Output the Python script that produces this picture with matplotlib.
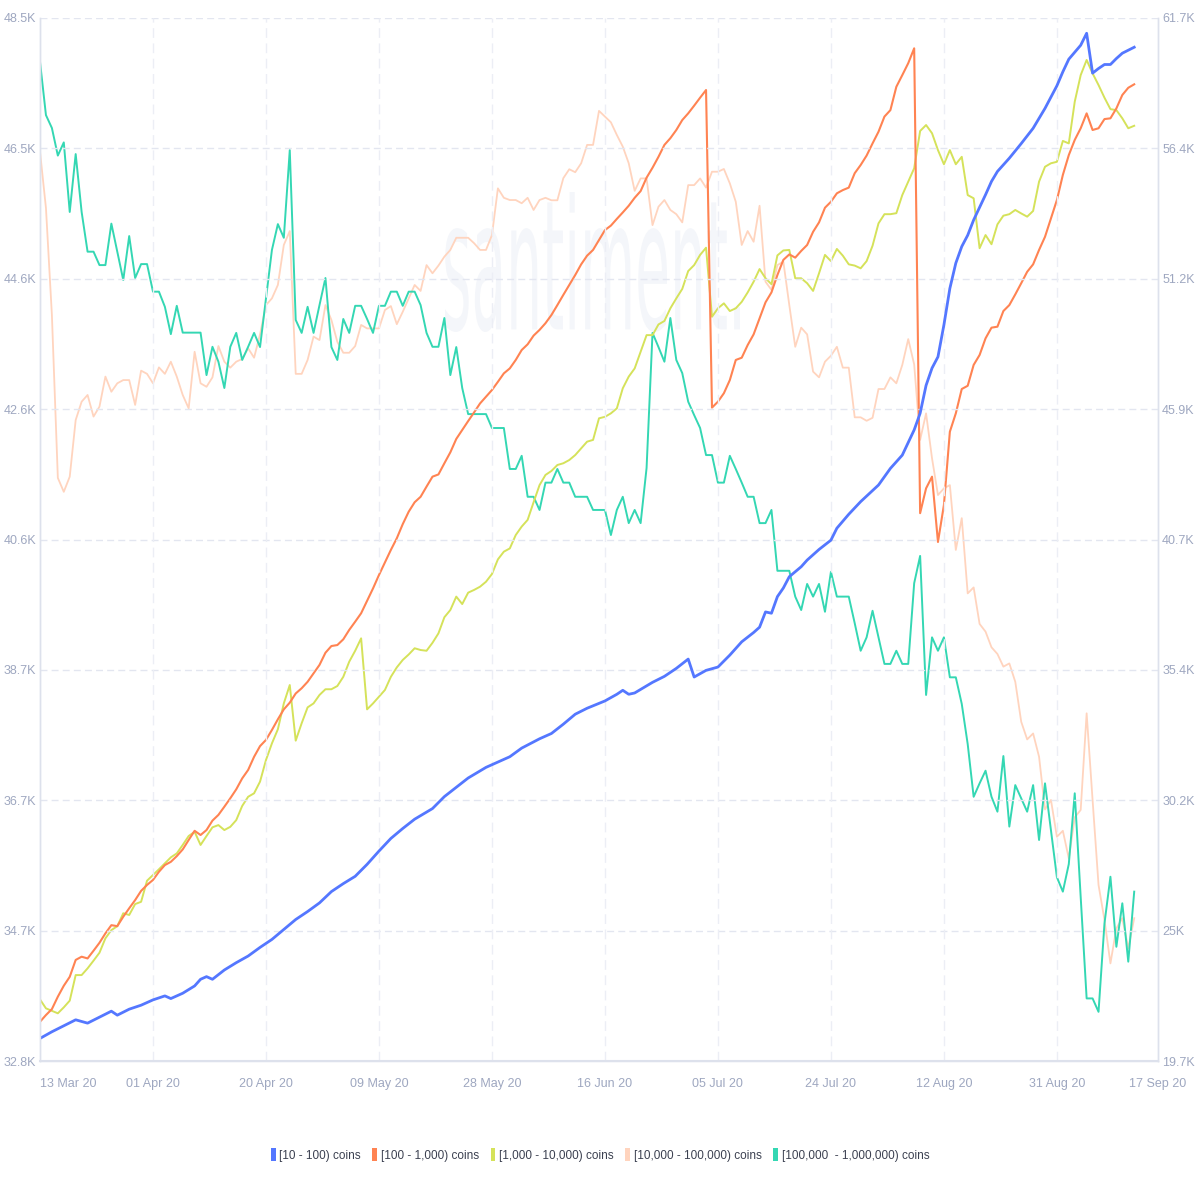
import matplotlib
matplotlib.use("Agg")
import matplotlib.pyplot as plt
import numpy as np
import pandas as pd
from matplotlib.patches import Patch, PathPatch
from matplotlib.textpath import TextPath
from matplotlib.font_manager import FontProperties
from matplotlib.transforms import Affine2D

plt.rcParams["font.family"] = ["Liberation Sans", "DejaVu Sans"]

START = pd.Timestamp("2020-03-13")
END = pd.Timestamp("2020-09-17")

# daily values (thousands of holders), day 0 = 13 Mar 20
orange = [21.28, 21.55, 21.79, 22.29, 22.73, 23.09, 23.77, 23.90, 23.83, 24.14,
          24.46, 24.84, 25.17, 25.13, 25.51, 25.85, 26.18, 26.55, 26.79, 26.99,
          27.32, 27.59, 27.72, 27.95, 28.22, 28.60, 28.97, 28.80, 29.00, 29.38,
          29.61, 29.94, 30.28, 30.64, 31.08, 31.42, 31.95, 32.38, 32.63, 33.03,
          33.46, 33.86, 34.13, 34.50, 34.71, 34.97, 35.31, 35.65, 36.14, 36.41,
          36.45, 36.68, 37.06, 37.39, 37.73, 38.23, 38.73, 39.27, 39.77, 40.28,
          40.75, 41.32, 41.82, 42.20, 42.42, 42.83, 43.23, 43.32, 43.77, 44.21,
          44.75, 45.11, 45.47, 45.82, 46.18, 46.45, 46.72, 47.05, 47.39, 47.59,
          47.93, 48.33, 48.56, 48.91, 49.14, 49.41, 49.74, 50.14, 50.55, 50.95,
          51.35, 51.78, 52.13, 52.36, 52.76, 53.16, 53.34, 53.61, 53.87, 54.14,
          54.46, 54.73, 55.27, 55.67, 56.11, 56.59, 56.86, 57.19, 57.59, 57.86,
          58.17, 58.49, 58.80, 46.01, 46.25, 46.59, 47.12, 47.93, 48.02, 48.53,
          48.96, 49.61, 50.25, 50.65, 51.35, 51.96, 52.18, 52.05, 52.32, 52.56,
          53.09, 53.47, 54.06, 54.30, 54.64, 54.77, 54.87, 55.45, 55.78, 56.16,
          56.65, 57.12, 57.73, 57.99, 58.93, 59.40, 59.88, 60.48, 41.76, 42.76,
          43.23, 40.60, 42.09, 45.04, 45.78, 46.76, 46.89, 47.73, 48.13, 48.80,
          49.23, 49.27, 49.90, 50.14, 50.57, 51.02, 51.48, 51.78, 52.36, 52.89,
          53.63, 54.37, 55.38, 56.18, 56.79, 57.26, 57.86, 57.19, 57.26, 57.63,
          57.66, 58.06, 58.60, 58.89, 59.03]

green = [22.18, 21.82, 21.72, 21.62, 21.86, 22.13, 23.16, 23.16, 23.43, 23.74,
         24.06, 24.64, 24.97, 25.13, 25.65, 25.58, 26.02, 26.11, 26.96, 27.19,
         27.42, 27.66, 27.90, 28.06, 28.40, 28.76, 28.93, 28.40, 28.76, 29.11,
         29.20, 29.00, 29.13, 29.40, 29.97, 30.34, 30.48, 30.95, 31.82, 32.49,
         33.06, 34.10, 34.84, 32.60, 33.30, 33.94, 34.10, 34.44, 34.67, 34.67,
         34.80, 35.17, 35.78, 36.22, 36.72, 33.86, 34.10, 34.37, 34.64, 35.17,
         35.55, 35.85, 36.07, 36.32, 36.25, 36.22, 36.54, 36.92, 37.57, 37.86,
         38.40, 38.10, 38.56, 38.67, 38.80, 39.00, 39.31, 39.90, 40.21, 40.34,
         40.88, 41.22, 41.49, 42.20, 42.89, 43.30, 43.46, 43.70, 43.77, 43.90,
         44.10, 44.37, 44.64, 44.71, 45.58, 45.64, 45.78, 45.98, 46.79, 47.26,
         47.59, 48.26, 48.93, 48.93, 49.36, 49.50, 50.01, 50.41, 50.79, 51.51,
         51.75, 52.16, 52.45, 49.67, 50.01, 50.21, 49.90, 50.01, 50.27, 50.65,
         51.08, 51.59, 51.22, 50.98, 52.14, 52.34, 52.36, 51.22, 51.22, 51.02,
         50.71, 51.42, 52.16, 51.91, 52.40, 52.13, 51.78, 51.73, 51.62, 51.91,
         52.53, 53.43, 53.80, 53.80, 53.84, 54.57, 55.11, 55.65, 57.15, 57.39,
         57.06, 56.38, 55.81, 56.38, 55.81, 56.11, 54.57, 54.44, 52.43, 52.96,
         52.59, 53.39, 53.74, 53.80, 53.97, 53.83, 53.70, 53.93, 55.11, 55.71,
         55.85, 55.91, 56.75, 56.65, 58.33, 59.40, 60.01, 59.47, 59.00, 58.49,
         58.03, 57.99, 57.66, 57.26, 57.36]

peach = [56.32, 54.05, 49.74, 43.18, 42.62, 43.23, 45.51, 46.25, 46.52, 45.65,
         46.05, 47.26, 46.65, 46.99, 47.12, 47.12, 46.12, 47.50, 47.37, 46.99,
         47.63, 47.37, 47.86, 47.26, 46.52, 45.98, 48.26, 46.99, 46.85, 47.23,
         48.49, 47.86, 47.62, 47.86, 47.97, 48.40, 48.02, 48.96, 50.14, 50.41,
         50.95, 52.56, 53.12, 47.37, 47.37, 47.93, 48.87, 48.73, 50.14, 49.54,
         48.66, 48.22, 48.22, 48.49, 49.34, 49.20, 49.20, 49.20, 49.94, 50.10,
         49.37, 49.87, 50.41, 50.95, 50.71, 51.75, 51.42, 51.73, 52.09, 52.36,
         52.85, 52.85, 52.85, 52.63, 52.36, 52.36, 52.96, 54.84, 54.46, 54.37,
         54.37, 54.24, 54.46, 53.97, 54.37, 54.46, 54.36, 54.36, 55.25, 55.61,
         55.49, 55.85, 56.59, 56.59, 57.96, 57.73, 57.50, 56.99, 56.52, 55.85,
         54.74, 55.24, 55.24, 53.36, 54.10, 54.37, 53.97, 53.80, 53.47, 54.97,
         54.97, 55.24, 54.87, 55.51, 55.51, 55.62, 55.04, 54.30, 52.56, 53.12,
         52.69, 54.14, 51.08, 50.75, 51.75, 51.89, 50.14, 48.46, 49.23, 48.96,
         47.46, 47.23, 47.86, 48.10, 48.46, 47.62, 47.62, 45.62, 45.62, 45.48,
         45.60, 46.76, 46.76, 47.23, 46.99, 47.73, 48.77, 47.75, 44.71, 45.78,
         43.97, 42.49, 42.76, 42.89, 40.28, 41.56, 38.53, 38.77, 37.30, 36.99,
         36.36, 36.09, 35.58, 35.71, 34.97, 33.36, 32.65, 32.89, 31.95, 29.83,
         30.21, 28.73, 28.97, 27.86, 29.51, 29.81, 33.70, 30.21, 26.79, 25.38,
         23.63, 25.04, 25.45, 24.24, 25.45]

teal = [59.94, 57.79, 57.27, 56.16, 56.69, 53.89, 56.22, 53.89, 52.29, 52.29,
        51.75, 51.75, 53.42, 52.29, 51.15, 52.92, 51.23, 51.79, 51.79, 50.68,
        50.68, 50.07, 48.97, 50.11, 49.03, 49.03, 49.03, 49.03, 47.32, 48.46,
        47.86, 46.80, 48.46, 49.02, 47.93, 48.46, 49.02, 48.45, 50.42, 52.36,
        53.40, 52.85, 56.38, 49.54, 49.02, 50.07, 49.02, 50.14, 51.23, 48.45,
        47.93, 49.58, 49.02, 50.11, 50.11, 49.58, 49.02, 50.11, 50.11, 50.68,
        50.68, 50.11, 50.68, 50.68, 50.14, 49.02, 48.46, 48.46, 49.62, 47.32,
        48.45, 46.80, 45.75, 45.75, 45.75, 45.75, 45.19, 45.19, 45.19, 43.54,
        43.54, 44.07, 42.42, 42.42, 41.89, 42.99, 42.99, 43.54, 42.99, 42.99,
        42.42, 42.42, 42.42, 41.89, 41.89, 41.89, 40.88, 41.89, 42.42, 41.36,
        41.89, 41.36, 43.58, 49.02, 48.45, 47.86, 49.62, 47.93, 47.40, 46.25,
        45.71, 45.19, 44.10, 44.10, 42.99, 42.99, 44.07, 43.54, 42.99, 42.42,
        42.42, 41.36, 41.36, 41.89, 39.44, 39.44, 39.44, 38.40, 37.86, 38.91,
        38.40, 38.91, 37.79, 39.40, 38.40, 38.40, 38.40, 37.33, 36.22, 36.76,
        37.83, 36.76, 35.69, 35.69, 36.22, 35.69, 35.69, 38.94, 40.04, 34.44,
        36.76, 36.22, 36.76, 35.15, 35.15, 34.08, 32.46, 30.34, 30.88, 31.39,
        30.34, 29.74, 31.98, 29.14, 30.81, 30.28, 29.74, 30.81, 28.60, 30.88,
        29.00, 27.10, 26.52, 27.63, 30.48, 26.30, 22.22, 22.22, 21.68, 25.24,
        27.12, 24.30, 26.05, 23.70, 26.52]

# [10 - 100) coins, left axis, read at the days where the line bends
blue_days = [0, 2, 4, 6, 8, 10, 12, 13, 15, 17, 19, 21, 22, 24, 26, 27, 28, 29, 31, 33,
             35, 37, 39, 41, 43, 45, 47, 49, 51, 53, 55, 57, 59, 61, 63, 66, 68, 70, 72, 75,
             77, 79, 81, 84, 86, 88, 90, 92, 95, 97, 98, 99, 100, 103, 105, 107, 109, 110, 112, 114,
             116, 118, 120, 121, 122, 123, 124, 125, 126, 128, 129, 131, 133, 134, 136, 138, 141, 143, 145, 147,
             148, 149, 150, 151, 152, 153, 154, 155, 156, 157, 159, 160, 161, 163, 165, 167, 169, 171, 172, 173,
             175, 176, 177, 178, 179, 180, 181, 182, 184]
blue = [33.14, 33.24, 33.33, 33.42, 33.37, 33.46, 33.55, 33.49, 33.58, 33.64,
        33.72, 33.78, 33.74, 33.82, 33.93, 34.03, 34.07, 34.03, 34.17, 34.28,
        34.38, 34.51, 34.63, 34.78, 34.93, 35.05, 35.18, 35.35, 35.47, 35.58,
        35.76, 35.96, 36.15, 36.30, 36.44, 36.60, 36.78, 36.92, 37.06, 37.22,
        37.30, 37.38, 37.51, 37.65, 37.73, 37.87, 38.02, 38.11, 38.22, 38.32,
        38.38, 38.32, 38.34, 38.50, 38.59, 38.71, 38.85, 38.58, 38.68, 38.73,
        38.91, 39.11, 39.25, 39.33, 39.56, 39.54, 39.79, 39.92, 40.09, 40.24,
        40.34, 40.50, 40.64, 40.82, 41.03, 41.22, 41.47, 41.72, 41.92, 42.30,
        42.55, 42.97, 43.23, 43.40, 43.88, 44.43, 44.81, 45.06, 45.23, 45.46,
        45.84, 46.04, 46.19, 46.39, 46.61, 46.84, 47.14, 47.48, 47.69, 47.88,
        48.09, 48.27, 47.67, 47.74, 47.80, 47.80, 47.89, 47.97, 48.06]

labels = ["[10 - 100) coins", "[100 - 1,000) coins", "[1,000 - 10,000) coins",
          "[10,000 - 100,000) coins", "[100,000  - 1,000,000) coins"]
colors = ["#5477ff", "#ff8352", "#d5e25a", "#ffd4be", "#34d7b3"]

left_ticks = ["32.8K", "34.7K", "36.7K", "38.7K", "40.6K", "42.6K", "44.6K", "46.5K", "48.5K"]
right_ticks = ["19.7K", "25K", "30.2K", "35.4K", "40.7K", "45.9K", "51.2K", "56.4K", "61.7K"]
tick_dates = ["2020-03-13", "2020-04-01", "2020-04-20", "2020-05-09", "2020-05-28", "2020-06-16",
              "2020-07-05", "2020-07-24", "2020-08-12", "2020-08-31", "2020-09-17"]

daily = START + pd.to_timedelta(np.arange(len(teal)), unit="D")
blue_dates = START + pd.to_timedelta(blue_days, unit="D")

fig = plt.figure(figsize=(12, 12), dpi=100)
ax = fig.add_axes([40 / 1200, 1 - 1061 / 1200, 1118 / 1200, 1043 / 1200])
ax2 = ax.twinx()

# faint watermark
tp = TextPath((0, 0), "santiment.", size=100, prop=FontProperties(family="DejaVu Sans"))
bb = tp.get_extents()
tr = (Affine2D().translate(-bb.x0, -bb.y0)
      .scale((295 / 1200) / bb.width, (140 / 1200) / bb.height)
      .translate(445 / 1200, 1 - 332 / 1200) + fig.transFigure)
fig.add_artist(PathPatch(tp, transform=tr, facecolor="#f4f6fa", edgecolor="none", zorder=-5))

ax2.plot(daily, peach, color=colors[3], lw=1.3)
ax2.plot(daily, teal, color=colors[4], lw=1.4)
ax2.plot(daily, green, color=colors[2], lw=1.4)
ax2.plot(daily, orange, color=colors[1], lw=1.5)
ax.plot(blue_dates, blue, color=colors[0], lw=2.0)

ax.set_zorder(ax2.get_zorder() + 1)
ax.patch.set_visible(False)
ax2.patch.set_visible(False)

ax.set_xlim(START, END)
ax.set_ylim(32.8, 48.5)
ax2.set_ylim(19.7, 61.7)

ax.set_yticks(np.linspace(32.8, 48.5, 9))
ax.set_yticklabels(left_ticks)
ax2.set_yticks(np.linspace(19.7, 61.7, 9))
ax2.set_yticklabels(right_ticks)

xt = pd.to_datetime(tick_dates)
ax.set_xticks(xt)
ax.set_xticklabels([d.strftime("%d %b %y") for d in xt])
ax.get_xticklabels()[0].set_ha("left")

tick_color = "#9ea7c0"
ax.tick_params(axis="x", length=0, pad=12, labelsize=9, colors=tick_color)
ax.tick_params(axis="y", length=0, pad=3, labelsize=9, colors=tick_color)
ax2.tick_params(axis="y", length=0, pad=3, labelsize=9, colors=tick_color)

grid_color = "#e3e6f0"
for v in np.linspace(32.8, 48.5, 9)[1:]:
    ax.axhline(v, color=grid_color, lw=1.0, ls=(0, (5, 3)), zorder=0)
for d in xt[1:-1]:
    ax.axvline(d, color="#eceef5", lw=1.0, ls=(0, (7, 4)), zorder=0)

for a in (ax, ax2):
    a.spines["top"].set_visible(False)
    for s in ("left", "right", "bottom"):
        a.spines[s].set_color("#dde1ec")
        a.spines[s].set_linewidth(1.0)
ax.spines["bottom"].set_linewidth(1.5)

handles = [Patch(facecolor=c, edgecolor="none") for c in colors]
leg = fig.legend(handles, labels, loc="center", bbox_to_anchor=(0.5, 1 - 1155 / 1200), ncol=5,
                 frameon=False, handlelength=0.4, handleheight=1.3, handletextpad=0.3,
                 columnspacing=1.0, fontsize=8.5)
for t in leg.get_texts():
    t.set_color("#3b4050")

fig.savefig("out.png", dpi=100, facecolor="white")
